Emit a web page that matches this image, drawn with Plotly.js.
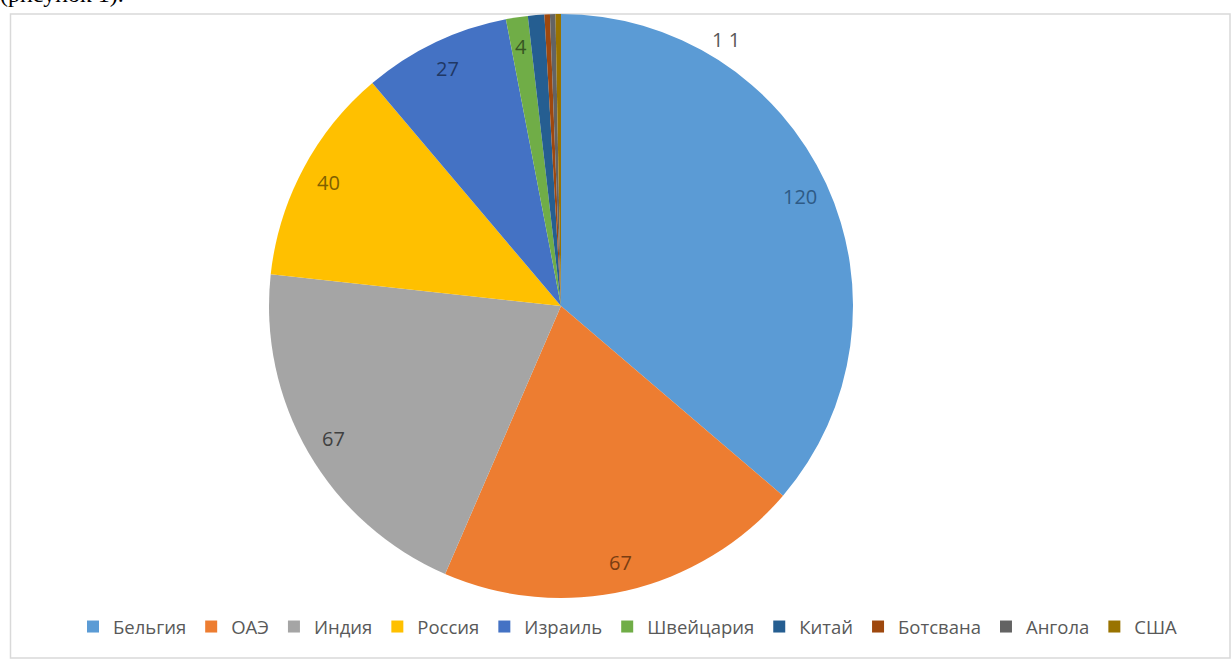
<!DOCTYPE html>
<html>
<head>
<meta charset="utf-8">
<script src="https://cdn.plot.ly/plotly-3.0.1.min.js"></script>
<style>html,body{margin:0;padding:0;background:#fff;}#chart{width:1231px;height:660px;}</style>
</head>
<body>
<div id="chart"></div>
<script>
const categories = ["Бельгия", "ОАЭ", "Индия", "Россия", "Израиль", "Швейцария", "Китай", "Ботсвана", "Ангола", "США"];
const values = [120, 67, 67, 40, 27, 4, 3, 1, 1, 1];
const colors = ["#5B9BD5", "#ED7D31", "#A5A5A5", "#FFC000", "#4472C4", "#70AD47", "#255E91", "#9E480E", "#636363", "#997300"];
const labelColors = ["#2e5a86", "#7a3d12", "#404040", "#7f6000", "#203864", "#375623"];
const labeledCount = 6;

const W = 1231, H = 660;
const cx = 561, cy = 306, R = 292;

const total = values.reduce((a, b) => a + b, 0);
const annotations = [];
let cum = 0;
values.forEach((v, i) => {
  const mid = (cum + v / 2) / total * 2 * Math.PI;
  cum += v;
  if (i < labeledCount) {
    const rr = 0.9 * R;
    const px = cx + rr * Math.sin(mid);
    const py = cy - rr * Math.cos(mid);
    annotations.push({
      x: px / W, y: 1 - py / H, xref: "paper", yref: "paper",
      text: String(v), showarrow: false,
      font: {family: "Open Sans, Noto Sans, sans-serif", size: 20, color: labelColors[i]},
      xanchor: "center", yanchor: "middle"
    });
  }
});
// small slices labelled outside near the top (as in the reference)
annotations.push({
  x: 726 / W, y: 1 - 40 / H, xref: "paper", yref: "paper",
  text: values[8] + " " + values[9], showarrow: false,
  font: {family: "Open Sans, Noto Sans, sans-serif", size: 20, color: "#595959"},
  xanchor: "center", yanchor: "middle"
});
// clipped caption at the very top
annotations.push({
  x: 0, y: 1 - 9 / H, xref: "paper", yref: "paper",
  text: "(рисунок 1).", showarrow: false,
  font: {family: "Liberation Serif, serif", size: 24, color: "#000"},
  xanchor: "left", yanchor: "bottom", xshift: -2
});

const trace = {
  type: "pie",
  labels: categories,
  values: values,
  marker: {colors: colors, line: {width: 0}},
  sort: false,
  direction: "clockwise",
  rotation: 0,
  textinfo: "none",
  hoverinfo: "label+value",
  domain: {x: [(cx - R) / W, (cx + R) / W], y: [1 - (cy + R) / H, 1 - (cy - R) / H]}
};

const layout = {
  width: W, height: H,
  margin: {l: 0, r: 0, t: 0, b: 0},
  paper_bgcolor: "#fff",
  showlegend: true,
  legend: {
    orientation: "h", x: 628 / W, xanchor: "center", y: 1 - 627 / H, yanchor: "middle",
    font: {family: "Open Sans, Noto Sans, sans-serif", size: 18.5, color: "#595959"},
    itemwidth: 30, tracegroupgap: 0
  },
  shapes: [{
    type: "rect", xref: "paper", yref: "paper",
    x0: 10.5 / W, x1: 1230 / W, y0: 1 - 658 / H, y1: 1 - 14 / H,
    line: {color: "#d9d9d9", width: 1.5}, fillcolor: "rgba(0,0,0,0)", layer: "below"
  }],
  annotations: annotations
};

Plotly.newPlot("chart", [trace], layout, {displayModeBar: false, staticPlot: true});
</script>
</body>
</html>
